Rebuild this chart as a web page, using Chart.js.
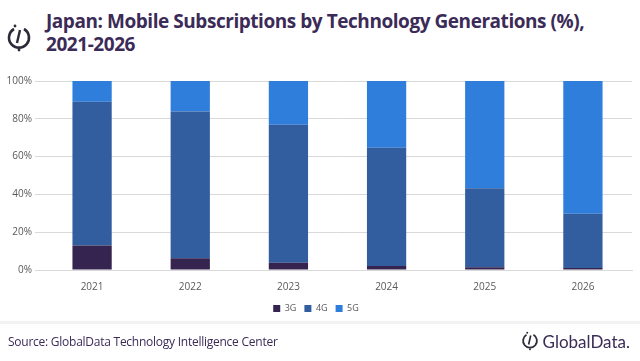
<!DOCTYPE html>
<html>
<head>
<meta charset="utf-8">
<script src="https://cdn.jsdelivr.net/npm/chart.js@4"></script>
<style>
  body { margin: 0; background: #fff; font-family: "Open Sans", sans-serif; }
  #wrap { position: relative; width: 640px; height: 361px; overflow: hidden; }
  #title { position: absolute; left: 46px; top: 10px; font-family: "Open Sans", sans-serif; font-weight: 700;
           font-size: 19px; line-height: 23px; color: #3b2b57; letter-spacing: -0.45px; }
  #icon { position: absolute; left: 6px; top: 24px; }
  #chartBox { position: absolute; left: 0; top: 72px; width: 640px; height: 255px; }
  #footer { position: absolute; left: 0; top: 321px; width: 640px; height: 40px; border-top: 3px solid #f2f2f2; }
  #source { position: absolute; left: 8px; top: 9px; font-size: 12px; color: #3b2b57; font-family: "Open Sans", sans-serif; letter-spacing: -0.25px; }
  #brand { position: absolute; right: 10px; top: 6px; font-size: 17px; color: #3b2b57; font-family: "Lato", sans-serif; display: flex; align-items: center; gap: 4px; }
</style>
</head>
<body>
<div id="wrap">
  <svg id="icon" width="26" height="28" viewBox="0 0 26 28">
    <path d="M8 5 A10 10 0 1 0 18 5" fill="none" stroke="#2b2b3a" stroke-width="2.6"/>
    <line x1="14" y1="6" x2="11" y2="19" stroke="#2b2b3a" stroke-width="2.4"/>
    <circle cx="9" cy="2" r="1.4" fill="#2b2b3a"/>
    <circle cx="13" cy="26" r="1.4" fill="#2b2b3a"/>
  </svg>
  <div id="title">Japan: Mobile Subscriptions by Technology Generations (%),<br>2021-2026</div>
  <div id="chartBox"><canvas id="chart"></canvas></div>
  <div id="footer">
    <div id="source">Source: GlobalData Technology Intelligence Center</div>
    <div id="brand">
      <svg width="18" height="22" viewBox="0 0 26 28">
        <path d="M8 5 A10 10 0 1 0 18 5" fill="none" stroke="#2b2b3a" stroke-width="2.6"/>
        <line x1="14" y1="6" x2="11" y2="19" stroke="#2b2b3a" stroke-width="2.4"/>
        <circle cx="9" cy="2" r="1.4" fill="#2b2b3a"/>
        <circle cx="13" cy="26" r="1.4" fill="#2b2b3a"/>
      </svg>
      <span>GlobalData.</span>
    </div>
  </div>
</div>
<script>
const years = ["2021", "2022", "2023", "2024", "2025", "2026"];
const g3 = [13, 6.2, 3.8, 2.1, 1.4, 1.0];
const g4 = [76, 77.6, 73, 62.6, 41.8, 28.8];
const g5 = [11, 16.2, 23.2, 35.3, 56.8, 70.2];

const ctx = document.getElementById("chart");

new Chart(ctx, {
  type: "bar",
  data: {
    labels: years,
    datasets: [
      { label: "3G", data: g3, backgroundColor: "#35244f" },
      { label: "4G", data: g4, backgroundColor: "#325ea0" },
      { label: "5G", data: g5, backgroundColor: "#2f7edb" }
    ]
  },
  options: {
    responsive: true,
    maintainAspectRatio: false,
    animation: false,
    datasets: { bar: { categoryPercentage: 1, barPercentage: 0.4 } },
    layout: { padding: { left: 0, right: 8, top: 8, bottom: 4 } },
    scales: {
      x: {
        stacked: true,
        grid: { display: false },
        border: { color: "#d9d9d9" },
        ticks: { color: "#595959", font: { family: "Open Sans", size: 10 } }
      },
      y: {
        stacked: true,
        min: 0,
        max: 100,
        afterFit: (s) => { s.width = 43; },
        ticks: {
          stepSize: 20,
          color: "#595959",
          font: { family: "Open Sans", size: 10 },
          callback: (v) => v + "%"
        },
        grid: { color: "#d9d9d9" },
        border: { display: false }
      }
    },
    plugins: {
      legend: {
        position: "bottom",
        labels: {
          boxWidth: 7,
          boxHeight: 7,
          padding: 8,
          color: "#595959",
          font: { family: "Open Sans", size: 9 }
        }
      },
      tooltip: { enabled: false }
    }
  }
});
</script>
</body>
</html>
